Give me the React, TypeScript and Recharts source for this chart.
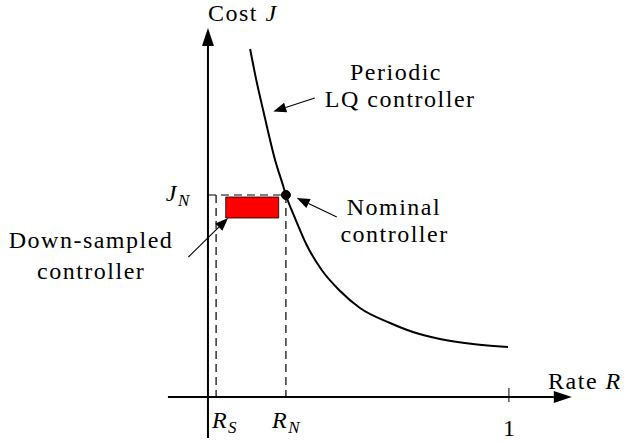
import React from "react";
import {
  ComposedChart,
  Line,
  XAxis,
  YAxis,
  ReferenceLine,
  ReferenceArea,
  ReferenceDot,
} from "recharts";

// cost curve of the periodic LQ controller
const rate = [0.14, 0.162, 0.184, 0.223, 0.25, 0.259, 0.289, 0.328, 0.378, 0.439, 0.505, 0.605, 0.681, 0.771, 0.88, 0.997];
const cost = [3.48, 3.15, 2.86, 2.37, 2.11, 2.02, 1.79, 1.52, 1.27, 1.06, 0.89, 0.74, 0.65, 0.58, 0.53, 0.5];

// nominal point and down-sampled region
const R_S = 0.027;
const R_N = 0.259;
const J_N = 2.02;
const downRate = [0.059, 0.235];
const downCost = [1.79, 2.0];

const curve = rate.map((r, i) => ({ R: r, J: cost[i] }));

const W = 626;
const H = 442;
const FONT = "Liberation Serif";

const Arrow = (head: number, half: number, width: number) => (props: any) => {
  const { x1, y1, x2, y2 } = props;
  const a = Math.atan2(y2 - y1, x2 - x1);
  const bx = x2 - head * Math.cos(a);
  const by = y2 - head * Math.sin(a);
  const px = -Math.sin(a) * half;
  const py = Math.cos(a) * half;
  return (
    <g>
      <line x1={x1} y1={y1} x2={bx} y2={by} stroke="#000" strokeWidth={width} />
      <polygon points={`${x2},${y2} ${bx + px},${by + py} ${bx - px},${by - py}`} fill="#000" />
    </g>
  );
};

const axisArrow = Arrow(18, 6, 2);
const noteArrow = Arrow(13, 5, 1.1);

const txt = (content: React.ReactNode) => (p: any) => (
  <text x={p.cx} y={p.cy} fill="#000" fontFamily={FONT} fontSize={24} letterSpacing={1.5}>
    {content}
  </text>
);

const it = (s: string) => <tspan fontStyle="italic">{s}</tspan>;
const sub = (s: string) => (
  <tspan dy={5} fontStyle="italic" fontSize={17}>
    {s}
  </tspan>
);

export default function App() {
  return (
    <div style={{ position: "absolute", left: 0, top: 0, background: "#fff" }}>
      <ComposedChart width={W} height={H} data={curve} margin={{ top: 0, right: 0, bottom: 0, left: 0 }}>
        <XAxis dataKey="R" type="number" domain={[-0.691, 1.389]} allowDataOverflow hide />
        <YAxis type="number" domain={[-0.45, 3.97]} allowDataOverflow hide />

        {/* axes */}
        <ReferenceLine segment={[{ x: -0.133, y: 0 }, { x: 1.209, y: 0 }]} shape={axisArrow} />
        <ReferenceLine segment={[{ x: 0, y: -0.41 }, { x: 0, y: 3.69 }]} shape={axisArrow} />
        <ReferenceLine segment={[{ x: 1, y: 0.09 }, { x: 1, y: -0.05 }]} stroke="#000" strokeWidth={1} />

        {/* dashed guides */}
        <ReferenceLine segment={[{ x: 0, y: J_N }, { x: R_N, y: J_N }]} stroke="#000" strokeWidth={1.2} strokeDasharray="8 5" />
        <ReferenceLine segment={[{ x: R_S, y: J_N }, { x: R_S, y: 0 }]} stroke="#000" strokeWidth={1.2} strokeDasharray="8 5" />
        <ReferenceLine segment={[{ x: R_N, y: J_N }, { x: R_N, y: 0 }]} stroke="#000" strokeWidth={1.2} strokeDasharray="8 5" />

        <ReferenceArea
          x1={downRate[0]}
          x2={downRate[1]}
          y1={downCost[0]}
          y2={downCost[1]}
          fill="#ff0000"
          fillOpacity={1}
          stroke="#000"
          strokeWidth={0.8}
        />

        <Line dataKey="J" type="monotone" stroke="#000" strokeWidth={2} dot={false} activeDot={false} isAnimationActive={false} />

        <ReferenceDot x={R_N} y={J_N} r={4.5} fill="#000" stroke="#000" />

        {/* annotation arrows */}
        <ReferenceLine segment={[{ x: 0.355, y: 2.99 }, { x: 0.217, y: 2.855 }]} shape={noteArrow} />
        <ReferenceLine segment={[{ x: 0.428, y: 1.8 }, { x: 0.295, y: 1.99 }]} shape={noteArrow} />
        <ReferenceLine segment={[{ x: -0.065, y: 1.4 }, { x: 0.067, y: 1.79 }]} shape={noteArrow} />

        {/* text */}
        <ReferenceDot x={0} y={3.76} shape={txt(<>Cost {it("J")}</>)} />
        <ReferenceDot x={0.472} y={3.17} shape={txt("Periodic")} />
        <ReferenceDot x={0.388} y={2.905} shape={txt("LQ controller")} />
        <ReferenceDot x={0.461} y={1.82} shape={txt("Nominal")} />
        <ReferenceDot x={0.44} y={1.55} shape={txt("controller")} />
        <ReferenceDot x={-0.662} y={1.49} shape={txt("Down-sampled")} />
        <ReferenceDot x={-0.568} y={1.18} shape={txt("controller")} />
        <ReferenceDot x={-0.14} y={1.96} shape={txt(<>{it("J")}{sub("N")}</>)} />
        <ReferenceDot x={1.13} y={0.08} shape={txt(<>Rate {it("R")}</>)} />
        <ReferenceDot x={0.013} y={-0.31} shape={txt(<>{it("R")}{sub("S")}</>)} />
        <ReferenceDot x={0.213} y={-0.31} shape={txt(<>{it("R")}{sub("N")}</>)} />
        <ReferenceDot x={0.98} y={-0.39} shape={txt("1")} />
      </ComposedChart>
    </div>
  );
}
